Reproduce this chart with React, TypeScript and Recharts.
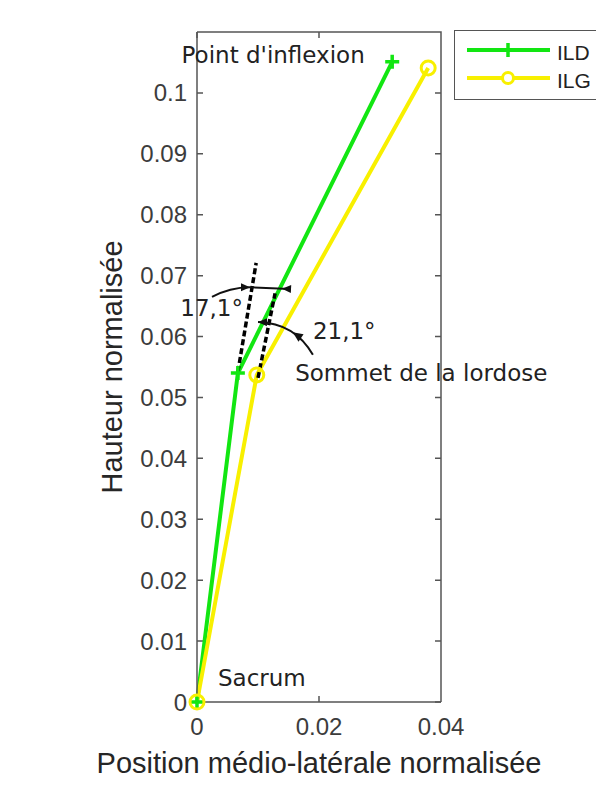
import React from 'react';
import { ComposedChart, Line, XAxis, YAxis, ReferenceLine, ReferenceDot, ReferenceArea, Legend } from 'recharts';

// ---- data ----
const ildX = [0, 0.0067, 0.032];
const ildY = [0, 0.054, 0.1051];
const ilgX = [0, 0.0098, 0.0379];
const ilgY = [0, 0.0537, 0.1041];
const xTicks = [0, 0.02, 0.04];
const yTicks = [0, 0.01, 0.02, 0.03, 0.04, 0.05, 0.06, 0.07, 0.08, 0.09, 0.1];
const xDomain = [0, 0.04];
const yDomain = [0, 0.11];

// annotation anchors (data coordinates)
const dashedLines = [
  { x1: 0.0067, y1: 0.0542, x2: 0.0097, y2: 0.0721 },
  { x1: 0.01, y1: 0.0532, x2: 0.0128, y2: 0.0671 },
];
const arc1 = { x1: 0.00246, y1: 0.0665, x2: 0.00869, y2: 0.0681 };
const arc1Seg = { x1: 0.00869, y1: 0.0681, x2: 0.01525, y2: 0.0678 };
const arc2 = { x1: 0.01, y1: 0.0624, x2: 0.019, y2: 0.057 };

const notes = [
  { text: "Point d'inflexion", x: 0.0275, y: 0.1049, anchor: 'end' },
  { text: '17,1°', x: 0.00754, y: 0.0634, anchor: 'end' },
  { text: '21,1°', x: 0.019, y: 0.0596, anchor: 'start' },
  { text: 'Sommet de la lordose', x: 0.0161, y: 0.0527, anchor: 'start' },
  { text: 'Sacrum', x: 0.00344, y: 0.0026, anchor: 'start' },
];

const GREEN = '#12e612';
const YELLOW = '#f8f000';
const AX = '#555';

const ildData = ildX.map((x, i) => ({ x, y: ildY[i] }));
const ilgData = ilgX.map((x, i) => ({ x, y: ilgY[i] }));

const PlusDot = (props: any) => {
  const { cx, cy } = props;
  if (cx == null || cy == null) return null;
  return (
    <path
      d={`M${cx - 7},${cy}H${cx + 7}M${cx},${cy - 7}V${cy + 7}`}
      stroke={GREEN}
      strokeWidth={3.5}
      fill="none"
    />
  );
};

const CircleDot = (props: any) => {
  const { cx, cy } = props;
  if (cx == null || cy == null) return null;
  return <circle cx={cx} cy={cy} r={7} stroke={YELLOW} strokeWidth={3} fill="none" />;
};

// Frame (top/right lines) and inward ticks on all four sides
const frameShape = (p: any) => {
  const { x, y, width, height } = p;
  const T = 6;
  const xs = xTicks.map((v) => x + ((v - xDomain[0]) / (xDomain[1] - xDomain[0])) * width);
  const ys = yTicks.map((v) => y + height - ((v - yDomain[0]) / (yDomain[1] - yDomain[0])) * height);
  let d = `M${x},${y}H${x + width}V${y + height}`;
  xs.forEach((px) => {
    d += `M${px},${y}V${y + T}M${px},${y + height}V${y + height - T}`;
  });
  ys.forEach((py) => {
    d += `M${x},${py}H${x + T}M${x + width},${py}H${x + width - T}`;
  });
  return <path d={d} stroke={AX} strokeWidth={1.5} fill="none" />;
};

const arrowHead = (tx: number, ty: number, ux: number, uy: number, key: string, L = 9, h = 4) => {
  const len = Math.hypot(ux, uy) || 1;
  const dx = ux / len;
  const dy = uy / len;
  const bx = tx - dx * L;
  const by = ty - dy * L;
  const nx = -dy;
  const ny = dx;
  return (
    <polygon
      key={key}
      points={`${tx},${ty} ${bx + nx * h},${by + ny * h} ${bx - nx * h},${by - ny * h}`}
      fill="#111"
    />
  );
};

const curveShape = (bend: number, mode: string) => (p: any) => {
  const { x1, y1, x2, y2 } = p;
  const dx = x2 - x1;
  const dy = y2 - y1;
  const len = Math.hypot(dx, dy) || 1;
  const nx = dy / len;
  const ny = -dx / len;
  const cx = (x1 + x2) / 2 + nx * bend;
  const cy = (y1 + y2) / 2 + ny * bend;
  const heads: any[] = [];
  if (mode === 'end') {
    heads.push(arrowHead(x2, y2, x2 - cx, y2 - cy, 'e'));
  } else if (mode === 'segBack') {
    const ux = (x1 - x2) / len;
    const uy = (y1 - y2) / len;
    heads.push(arrowHead(x2 + ux * 8, y2 + uy * 8, ux, uy, 'b'));
  } else if (mode === 'arc2') {
    heads.push(arrowHead(x1, y1, x1 - cx, y1 - cy, 's'));
    const t = 0.55;
    const px = (1 - t) * (1 - t) * x1 + 2 * (1 - t) * t * cx + t * t * x2;
    const py = (1 - t) * (1 - t) * y1 + 2 * (1 - t) * t * cy + t * t * y2;
    const tx = 2 * (1 - t) * (cx - x1) + 2 * t * (x2 - cx);
    const ty = 2 * (1 - t) * (cy - y1) + 2 * t * (y2 - cy);
    heads.push(arrowHead(px, py, -tx, -ty, 'm', 10, 4.5));
  }
  return (
    <g>
      <path d={`M${x1},${y1}Q${cx},${cy} ${x2},${y2}`} fill="none" stroke="#111" strokeWidth={2} />
      {heads}
    </g>
  );
};

const dashedShape = (p: any) => (
  <line x1={p.x1} y1={p.y1} x2={p.x2} y2={p.y2} stroke="#000" strokeWidth={3.5} strokeDasharray="6 3" />
);

const noteShape = (n: any) => (p: any) => (
  <text
    x={p.cx}
    y={p.cy}
    textAnchor={n.anchor}
    fontSize={23}
    fontFamily="DejaVu Sans"
    fill="#222"
  >
    {n.text}
  </text>
);

const renderLegend = (props: any) => {
  const payload = props.payload || [];
  return (
    <div
      style={{
        width: 170,
        height: 70,
        border: '1.5px solid #555',
        background: '#fff',
        boxSizing: 'border-box',
      }}
    >
      <svg width={170} height={67} style={{ display: 'block' }}>
        {payload.map((entry: any, i: number) => {
          const y = 19 + i * 28;
          const c = entry.color;
          return (
            <g key={i}>
              <line x1={12} y1={y} x2={95} y2={y} stroke={c} strokeWidth={4} />
              {i === 0 ? (
                <path d={`M${53 - 7},${y}H${53 + 7}M53,${y - 7}V${y + 7}`} stroke={c} strokeWidth={3.5} />
              ) : (
                <circle cx={53} cy={y} r={5.5} stroke={c} strokeWidth={3} fill="#fff" />
              )}
              <text x={102} y={y + 10} fontSize={21} fontFamily="Liberation Sans" fill="#222">
                {entry.value}
              </text>
            </g>
          );
        })}
      </svg>
    </div>
  );
};

const xLabel = (p: any) => {
  const vb = p.viewBox;
  return (
    <text
      x={vb.x + vb.width / 2}
      y={vb.y + 71}
      textAnchor="middle"
      fontSize={29}
      fontFamily="Liberation Sans"
      fill="#262626"
    >
      Position médio-latérale normalisée
    </text>
  );
};

const yLabel = (p: any) => {
  const vb = p.viewBox;
  const x = vb.x - 15;
  const y = vb.y + vb.height / 2;
  return (
    <text
      x={x}
      y={y}
      transform={`rotate(-90, ${x}, ${y})`}
      textAnchor="middle"
      fontSize={29}
      fontFamily="Liberation Sans"
      fill="#262626"
    >
      Hauteur normalisée
    </text>
  );
};

const tickStyle = { fontSize: 24, fill: '#3c3c3c', fontFamily: 'Liberation Sans' };

export default function App() {
  return (
    <div style={{ position: 'absolute', left: 0, top: 0, background: '#fff' }}>
      <ComposedChart
        width={596}
        height={785}
        margin={{ top: 32, right: 155, bottom: 53, left: 137 }}
      >
        <XAxis
          xAxisId="b"
          dataKey="x"
          type="number"
          domain={xDomain}
          ticks={xTicks}
          orientation="bottom"
          height={30}
          tickLine={false}
          tickSize={0}
          tickMargin={16}
          axisLine={{ stroke: AX, strokeWidth: 1.5 }}
          tick={tickStyle}
          tickFormatter={(v: number) => String(v)}
          label={{ content: xLabel }}
        />
        <YAxis
          yAxisId="l"
          type="number"
          domain={yDomain}
          ticks={yTicks}
          orientation="left"
          width={60}
          tickLine={false}
          tickSize={0}
          tickMargin={10}
          axisLine={{ stroke: AX, strokeWidth: 1.5 }}
          tick={tickStyle}
          tickFormatter={(v: number) => String(v)}
          label={{ content: yLabel }}
        />
        <Legend
          layout="horizontal"
          verticalAlign="middle"
          align="center"
          width={170}
          wrapperStyle={{ left: 454, top: 30, width: 170, height: 70 }}
          content={renderLegend}
        />
        <ReferenceArea
          xAxisId="b"
          yAxisId="l"
          x1={xDomain[0]}
          x2={xDomain[1]}
          y1={yDomain[0]}
          y2={yDomain[1]}
          ifOverflow="visible"
          shape={frameShape}
        />
        <Line
          xAxisId="b"
          yAxisId="l"
          data={ildData}
          dataKey="y"
          name="ILD"
          stroke={GREEN}
          strokeWidth={4}
          dot={<PlusDot />}
          activeDot={false}
          isAnimationActive={false}
        />
        <Line
          xAxisId="b"
          yAxisId="l"
          data={ilgData}
          dataKey="y"
          name="ILG"
          stroke={YELLOW}
          strokeWidth={4}
          dot={<CircleDot />}
          activeDot={false}
          isAnimationActive={false}
        />
        {dashedLines.map((d, i) => (
          <ReferenceLine
            key={'d' + i}
            xAxisId="b"
            yAxisId="l"
            segment={[{ x: d.x1, y: d.y1 }, { x: d.x2, y: d.y2 }]}
            ifOverflow="visible"
            shape={dashedShape}
          />
        ))}
        <ReferenceLine
          xAxisId="b"
          yAxisId="l"
          segment={[{ x: arc1.x1, y: arc1.y1 }, { x: arc1.x2, y: arc1.y2 }]}
          ifOverflow="visible"
          shape={curveShape(5, 'end')}
        />
        <ReferenceLine
          xAxisId="b"
          yAxisId="l"
          segment={[{ x: arc1Seg.x1, y: arc1Seg.y1 }, { x: arc1Seg.x2, y: arc1Seg.y2 }]}
          ifOverflow="visible"
          shape={curveShape(0, 'segBack')}
        />
        <ReferenceLine
          xAxisId="b"
          yAxisId="l"
          segment={[{ x: arc2.x1, y: arc2.y1 }, { x: arc2.x2, y: arc2.y2 }]}
          ifOverflow="visible"
          shape={curveShape(18, 'arc2')}
        />
        {notes.map((n, i) => (
          <ReferenceDot
            key={'n' + i}
            xAxisId="b"
            yAxisId="l"
            x={n.x}
            y={n.y}
            r={0}
            ifOverflow="visible"
            shape={noteShape(n)}
          />
        ))}
      </ComposedChart>
    </div>
  );
}
